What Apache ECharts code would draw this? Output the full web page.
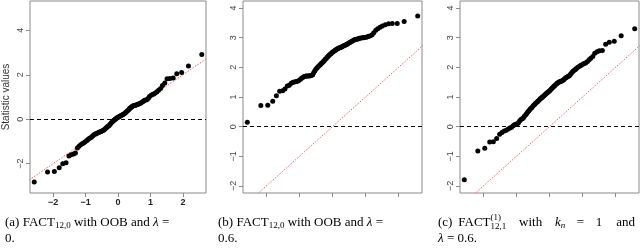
<!DOCTYPE html>
<html>
<head>
<meta charset="utf-8">
<script src="https://cdn.jsdelivr.net/npm/echarts@6/dist/echarts.min.js"></script>
<style>
html,body{margin:0;padding:0;background:#fff;}
#chart{width:640px;height:248px;}
</style>
</head>
<body>
<div id="chart"></div>
<script>
// Theoretical normal quantiles (x of the Q-Q plots), 100 points
const theoreticalQuantiles = [
-2.58,-2.17,-1.96,-1.81,-1.70,-1.60,-1.51,-1.44,-1.37,-1.31,
-1.25,-1.20,-1.15,-1.10,-1.06,-1.02,-0.97,-0.94,-0.90,-0.86,
-0.82,-0.79,-0.76,-0.72,-0.69,-0.66,-0.63,-0.60,-0.57,-0.54,
-0.51,-0.48,-0.45,-0.43,-0.40,-0.37,-0.35,-0.32,-0.29,-0.27,
-0.24,-0.22,-0.19,-0.16,-0.14,-0.11,-0.09,-0.06,-0.04,-0.01,
0.01,0.04,0.06,0.09,0.11,0.14,0.16,0.19,0.22,0.24,
0.27,0.29,0.32,0.35,0.37,0.40,0.43,0.45,0.48,0.51,
0.54,0.57,0.60,0.63,0.66,0.69,0.72,0.76,0.79,0.82,
0.86,0.90,0.94,0.97,1.02,1.06,1.10,1.15,1.20,1.25,
1.31,1.37,1.44,1.51,1.60,1.70,1.81,1.96,2.17,2.58];

// (a) FACT_{12,0} with OOB, lambda = 0
const statsA = [
-2.82,-2.37,-2.35,-2.18,-2.00,-1.96,-1.66,-1.60,-1.57,-1.52,
-1.30,-1.22,-1.15,-1.10,-1.07,-1.02,-0.97,-0.93,-0.88,-0.84,
-0.81,-0.77,-0.72,-0.68,-0.66,-0.64,-0.62,-0.60,-0.58,-0.56,
-0.54,-0.52,-0.50,-0.47,-0.44,-0.40,-0.37,-0.33,-0.30,-0.27,
-0.23,-0.18,-0.14,-0.10,-0.06,-0.03,0.00,0.02,0.05,0.08,
0.10,0.12,0.14,0.16,0.18,0.20,0.22,0.25,0.28,0.31,
0.35,0.38,0.42,0.46,0.50,0.53,0.56,0.59,0.61,0.62,
0.63,0.65,0.66,0.68,0.70,0.72,0.75,0.79,0.82,0.85,
0.87,0.89,0.95,1.02,1.08,1.11,1.13,1.18,1.24,1.30,
1.38,1.52,1.63,1.82,1.83,1.85,2.05,2.10,2.40,2.91];

// (b) FACT_{12,0} with OOB, lambda = 0.6
const statsB = [
0.15,0.71,0.72,0.86,1.04,1.19,1.21,1.27,1.37,1.40,
1.46,1.50,1.51,1.52,1.53,1.56,1.60,1.63,1.66,1.69,
1.70,1.71,1.71,1.71,1.72,1.72,1.73,1.75,1.82,1.88,
1.93,1.97,2.00,2.03,2.06,2.09,2.12,2.15,2.18,2.21,
2.24,2.27,2.30,2.34,2.37,2.40,2.43,2.45,2.47,2.50,
2.52,2.54,2.56,2.58,2.60,2.62,2.63,2.65,2.66,2.67,
2.69,2.70,2.72,2.73,2.74,2.76,2.77,2.79,2.81,2.83,
2.85,2.87,2.89,2.91,2.93,2.94,2.95,2.96,2.97,2.98,
2.99,3.00,3.00,3.01,3.02,3.03,3.05,3.07,3.10,3.17,
3.25,3.30,3.35,3.40,3.44,3.47,3.48,3.48,3.55,3.73];

// (c) FACT^{(1)}_{12,1}, k_n = 1, lambda = 0.6
const statsC = [
-1.79,-0.82,-0.73,-0.52,-0.51,-0.40,-0.26,-0.20,-0.15,-0.12,
-0.08,-0.05,-0.02,0.03,0.06,0.08,0.10,0.13,0.20,0.25,
0.27,0.30,0.35,0.40,0.44,0.49,0.53,0.57,0.61,0.64,
0.68,0.72,0.75,0.78,0.81,0.84,0.86,0.89,0.92,0.95,
0.97,1.00,1.02,1.05,1.08,1.10,1.13,1.15,1.17,1.19,
1.22,1.25,1.28,1.31,1.34,1.36,1.39,1.42,1.45,1.47,
1.49,1.51,1.52,1.53,1.54,1.56,1.58,1.61,1.64,1.66,
1.68,1.70,1.72,1.76,1.80,1.84,1.88,1.91,1.94,1.97,
2.00,2.03,2.06,2.08,2.11,2.13,2.16,2.20,2.26,2.31,
2.37,2.48,2.53,2.56,2.57,2.78,2.85,2.88,3.07,3.30];

// Tick labels
const xTicks = [-2, -1, 0, 1, 2];
const yTicksA = [-2, 0, 2, 4];
const yTicksBC = [-2, -1, 0, 1, 2, 3, 4];
// reference line y = x, span
const identitySpan = [-3.5, 5.5];

const panels = [
  {y: statsA, yTicks: yTicksA, ymin: -3.32, ymax: 5.32, left: 27, xLabels: true, yName: 'Statistic values'},
  {y: statsB, yTicks: yTicksBC, ymin: -2.24, ymax: 4.24, left: 243, xLabels: false, yName: ''},
  {y: statsC, yTicks: yTicksBC, ymin: -2.24, ymax: 4.24, left: 460, xLabels: false, yName: ''}
];

const SANS = '"Liberation Sans", Arial, sans-serif';
const minus = v => String(v).replace('-', '\u2212');

const grids = [], xAxes = [], yAxes = [], series = [];
panels.forEach((p, i) => {
  grids.push({left: p.left, top: 1, width: 179, height: 192, show: true,
    borderColor: '#8a8a8a', borderWidth: 1, backgroundColor: 'transparent', containLabel: false});
  xAxes.push({type: 'value', gridIndex: i, min: -2.71, max: 2.71, position: 'bottom',
    axisLine: {show: false, onZero: false}, splitLine: {show: false},
    axisTick: {show: true, inside: false, length: 4, customValues: xTicks, lineStyle: {color: '#8a8a8a'}},
    axisLabel: {show: p.xLabels, customValues: xTicks, margin: 5, fontFamily: SANS, fontSize: 9,
      fontWeight: 'bold', color: '#222', formatter: minus}});
  yAxes.push({type: 'value', gridIndex: i, min: p.ymin, max: p.ymax, position: 'left',
    name: p.yName, nameLocation: 'middle', nameGap: 19, nameRotate: 90,
    nameTextStyle: {fontFamily: SANS, fontSize: 10, color: '#333'},
    axisLine: {show: false, onZero: false}, splitLine: {show: false},
    axisTick: {show: true, inside: false, length: 4, customValues: p.yTicks, lineStyle: {color: '#8a8a8a'}},
    axisLabel: {customValues: p.yTicks, rotate: 90, margin: 5, fontFamily: SANS, fontSize: 9,
      color: '#444', formatter: minus}});
  series.push({type: 'line', xAxisIndex: i, yAxisIndex: i, showSymbol: false, silent: true,
    clip: true, data: identitySpan.map(v => [v, v]),
    lineStyle: {color: '#ff5a5a', width: 1, type: [1.5, 1.5]}, z: 1});
  series.push({type: 'scatter', xAxisIndex: i, yAxisIndex: i, symbolSize: 5,
    itemStyle: {color: '#000', opacity: 1}, silent: true, z: 3,
    data: theoreticalQuantiles.map((x, k) => [x, p.y[k]]),
    markLine: {silent: true, symbol: 'none', label: {show: false},
      lineStyle: {color: '#000', type: [4, 3], width: 1}, data: [{yAxis: 0}]}});
});

// Captions (layout via canvas text measurement)
const SERIF = '"Liberation Serif", "DejaVu Serif", serif';
const cv = document.createElement('canvas').getContext('2d');
const fnt = (sz, it) => (it ? 'italic ' : '') + sz + 'px ' + SERIF;
const graphics = [];
function pieceWidth(pc) {
  if (pc.stack) {
    return Math.max(...pc.stack.map(s => { cv.font = fnt(s.s || 13, s.it); return cv.measureText(s.t).width; }));
  }
  cv.font = fnt(pc.s || 13, pc.it);
  return cv.measureText(pc.t).width;
}
function emit(x, y, s) {
  graphics.push({type: 'text', x: x, y: y + (s.dy || 0), silent: true,
    style: {text: s.t, font: fnt(s.s || 13, s.it), fill: '#000', verticalAlign: 'middle'}});
}
// groups of pieces separated by gaps; justified to [x0, x1] if x1 given (gap weights optional)
function line(x0, y, groups, x1, weights) {
  const widths = groups.map(g => g.reduce((a, pc) => a + pieceWidth(pc), 0));
  cv.font = fnt(13);
  const space = cv.measureText(' ').width;
  const w = weights || groups.slice(1).map(() => 1);
  let gaps = w.map(() => space);
  if (x1 !== undefined && groups.length > 1) {
    const free = x1 - x0 - widths.reduce((a, b) => a + b, 0);
    const tw = w.reduce((a, b) => a + b, 0);
    gaps = w.map(v => free * v / tw);
  }
  let x = x0;
  groups.forEach((g, gi) => {
    g.forEach(pc => {
      if (pc.stack) pc.stack.forEach(s => emit(x, y, s)); else emit(x, y, pc);
      x += pieceWidth(pc);
    });
    if (gi < gaps.length) x += gaps[gi];
  });
}
const L1 = 223, L2 = 239;
const capAB = tag => [[{t: tag}], [{t: 'FACT'}, {t: '12,0', s: 9, dy: 3}], [{t: 'with'}], [{t: 'OOB'}],
  [{t: 'and'}], [{t: 'λ', it: true}], [{t: '='}]];
line(5, L1, capAB('(a)'));
line(5, L2, [[{t: '0.'}]]);
line(218, L1, capAB('(b)'));
line(218, L2, [[{t: '0.6.'}]]);
line(438, L1, [[{t: '(c)'}], [{t: 'FACT'}, {stack: [{t: '(1)', s: 9, dy: -5}, {t: '12,1', s: 9, dy: 4}]}],
  [{t: 'with'}], [{t: 'k', it: true}, {t: 'n', s: 9, it: true, dy: 3}], [{t: '='}], [{t: '1'}], [{t: 'and'}]],
  635, [0.5, 1.1, 1.1, 1, 1, 1.2]);
line(438, L2, [[{t: 'λ', it: true}], [{t: '='}], [{t: '0.6.'}]]);

const chart = echarts.init(document.getElementById('chart'), null, {renderer: 'canvas'});
chart.setOption({
  animation: false,
  backgroundColor: '#fff',
  grid: grids, xAxis: xAxes, yAxis: yAxes, series: series,
  graphic: graphics
});
</script>
</body>
</html>
